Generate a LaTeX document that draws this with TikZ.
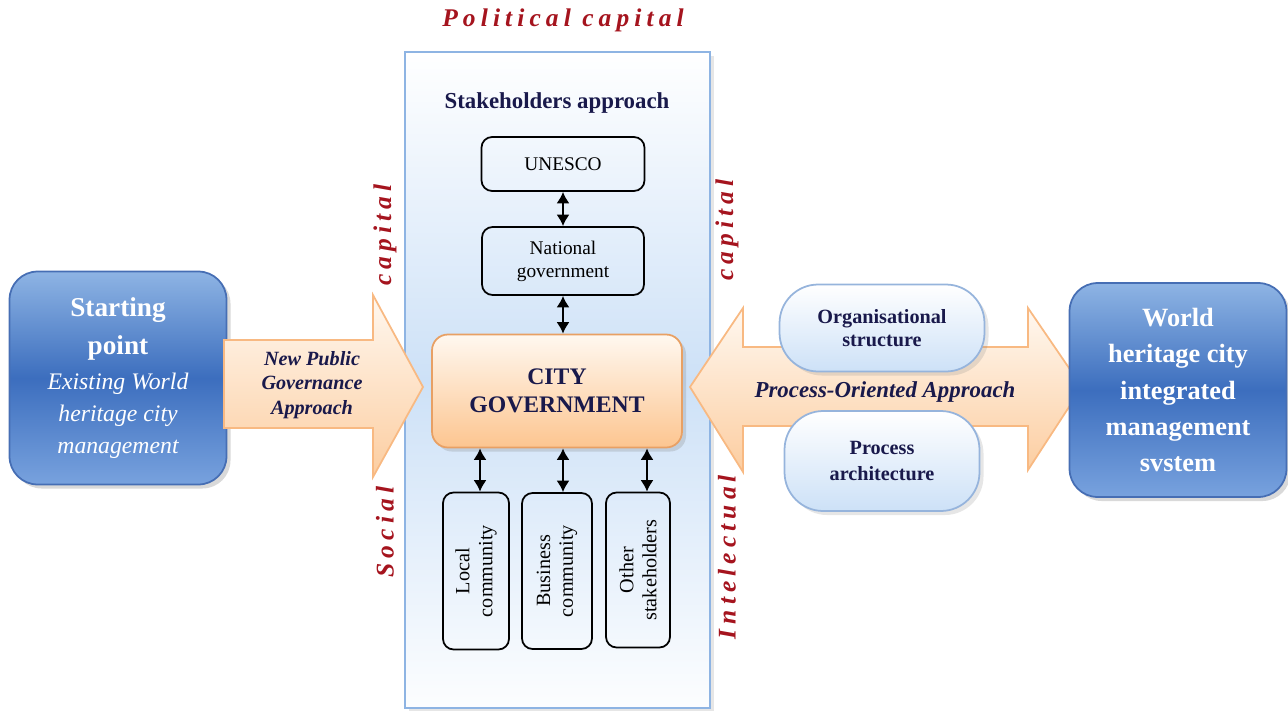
\documentclass[tikz,border=0pt]{standalone}
\usepackage{fontspec}
\setmainfont{Liberation Serif}
\newfontfamily\capfont[LetterSpace=20]{Liberation Serif}
\usetikzlibrary{arrows.meta,shadows}
\definecolor{capred}{RGB}{165,20,30}
\definecolor{navy}{RGB}{25,25,75}
\definecolor{bluetop}{RGB}{142,180,228}
\definecolor{bluemid}{RGB}{60,110,190}
\definecolor{bluebot}{RGB}{120,162,222}
\definecolor{blueedge}{RGB}{70,110,180}
\definecolor{paneledge}{RGB}{142,180,227}
\definecolor{panelblue}{RGB}{205,225,247}
\definecolor{orangeedge}{RGB}{248,185,130}
\definecolor{orangetop}{RGB}{255,248,240}
\definecolor{orangebot}{RGB}{252,205,160}
\definecolor{cityedge}{RGB}{232,160,100}
\definecolor{pilledge}{RGB}{150,180,220}
\tikzset{
  bluebox/.style={draw=blueedge, line width=1pt, rounded corners=16pt, top color=bluetop, bottom color=bluebot, middle color=bluemid, text=white, align=center, drop shadow={opacity=0.3}},
  panel/.style={draw=paneledge, line width=1.2pt, top color=white, bottom color=white!95!panelblue, middle color=panelblue, drop shadow={opacity=0.2}},
  caplabel/.style={text=capred, font=\capfont\bfseries\itshape\fontsize{14.5}{16}\selectfont},
  stakebox/.style={draw, line width=1pt, rounded corners=6pt, align=center, font=\fontsize{11.5}{13}\selectfont},
  bigarrow/.style={draw=orangeedge, line width=1pt, top color=orangetop, bottom color=orangebot},
  pill/.style={draw=pilledge, line width=1pt, rounded corners=22pt, top color=white, bottom color=panelblue, align=center, text=navy, font=\fontsize{11.5}{13}\selectfont\bfseries, drop shadow={opacity=0.2}}
}
\begin{document}
\begin{tikzpicture}[x=0.02cm,y=-0.02cm,>={Latex[length=6.5pt,width=7.5pt]}]
\useasboundingbox (0,0) rectangle (1288,710);
% centre panel
\node[panel, minimum width=6.1cm, minimum height=13.12cm] (panel) at (557.5,380) {};
\node[caplabel] (polcap) at (563,20) {Political capital};
\node[caplabel, rotate=90] (social) at (385,532) {Social};
\node[caplabel, rotate=90] (soccap) at (385,235) {capital};
\node[caplabel, rotate=90] (intel) at (727,557) {Intelectual};
\node[caplabel, rotate=90] (intcap) at (727,230) {capital};
\node[text=navy, font=\fontsize{13}{15}\selectfont\bfseries] (stkapp) at (557,103) {Stakeholders approach};
% stakeholders
\node[stakebox, minimum width=3.26cm, minimum height=1.08cm, font=\fontsize{11}{13}\selectfont] (unesco) at (563,164) {UNESCO};
\node[stakebox, minimum width=3.24cm, minimum height=1.36cm, font=\fontsize{11}{13}\selectfont] (natgov) at (563,261) {National\\government};
\node[draw=cityedge, line width=1pt, rounded corners=9pt, top color=orangetop, bottom color=orangebot!90!orange, text=navy, align=center, font=\fontsize{13.5}{16}\selectfont\bfseries, minimum width=5cm, minimum height=2.26cm, drop shadow={opacity=0.25}] (city) at (557,391) {CITY\\GOVERNMENT};
\node[stakebox, rotate=90, minimum width=3.14cm, minimum height=1.32cm] (local) at (476,571) {Local\\community};
\node[stakebox, rotate=90, minimum width=3.12cm, minimum height=1.4cm] (busi) at (557,571) {Business\\community};
\node[stakebox, rotate=90, minimum width=3.1cm, minimum height=1.28cm] (other) at (638,570) {Other\\stakeholders};
\draw[<->, line width=1.3pt] (unesco) -- (natgov);
\draw[<->, line width=1.3pt] (natgov.south) -- (natgov.south |- city.north);
\foreach \n/\s in {local/0.08,busi/0.12,other/0.18}
  \draw[<->, line width=1.3pt] ([xshift=\s cm]\n.east |- city.south) -- ([xshift=\s cm]\n.east);
% left side
\node[bluebox, minimum width=4.34cm, minimum height=4.26cm, font=\fontsize{13.5}{18}\selectfont] (start) at (118,378)
  {{\fontsize{15.5}{18}\selectfont\bfseries Starting}\\[3.5pt]{\fontsize{15.5}{18}\selectfont\bfseries point}\\[2pt]{\itshape Existing World}\\{\itshape heritage city}\\{\itshape management}};
\draw[bigarrow] (224,340) -- (373,340) -- (373,295) -- (423,387) -- (373,477) -- (373,428) -- (224,428) -- cycle;
\node[text=navy, align=center, font=\fontsize{11.5}{13.9}\selectfont\bfseries\itshape] (npga) at (312,385) {New Public\\Governance\\Approach};
% right side
\draw[bigarrow] (690,387) -- (743,308) -- (743,347) -- (1028,347) -- (1028,308) -- (1082,387) -- (1028,470) -- (1028,426) -- (743,426) -- (743,472) -- cycle;
\node[pill, minimum width=4.1cm, minimum height=1.74cm] (orgstr) at (882,328) {Organisational\\structure};
\node[pill, minimum width=3.9cm, minimum height=2cm, font=\fontsize{11.5}{14.5}\selectfont\bfseries] (procarch) at (882,461) {Process\\architecture};
\node[text=navy, font=\fontsize{13}{15}\selectfont\bfseries\itshape] (poa) at (885,392) {Process-Oriented Approach};
\node[bluebox, minimum width=4.34cm, minimum height=4.28cm, font=\fontsize{15}{20.7}\selectfont\bfseries] (target) at (1178,390)
  {World\\heritage city\\integrated\\management\\svstem};
\end{tikzpicture}
\end{document}
